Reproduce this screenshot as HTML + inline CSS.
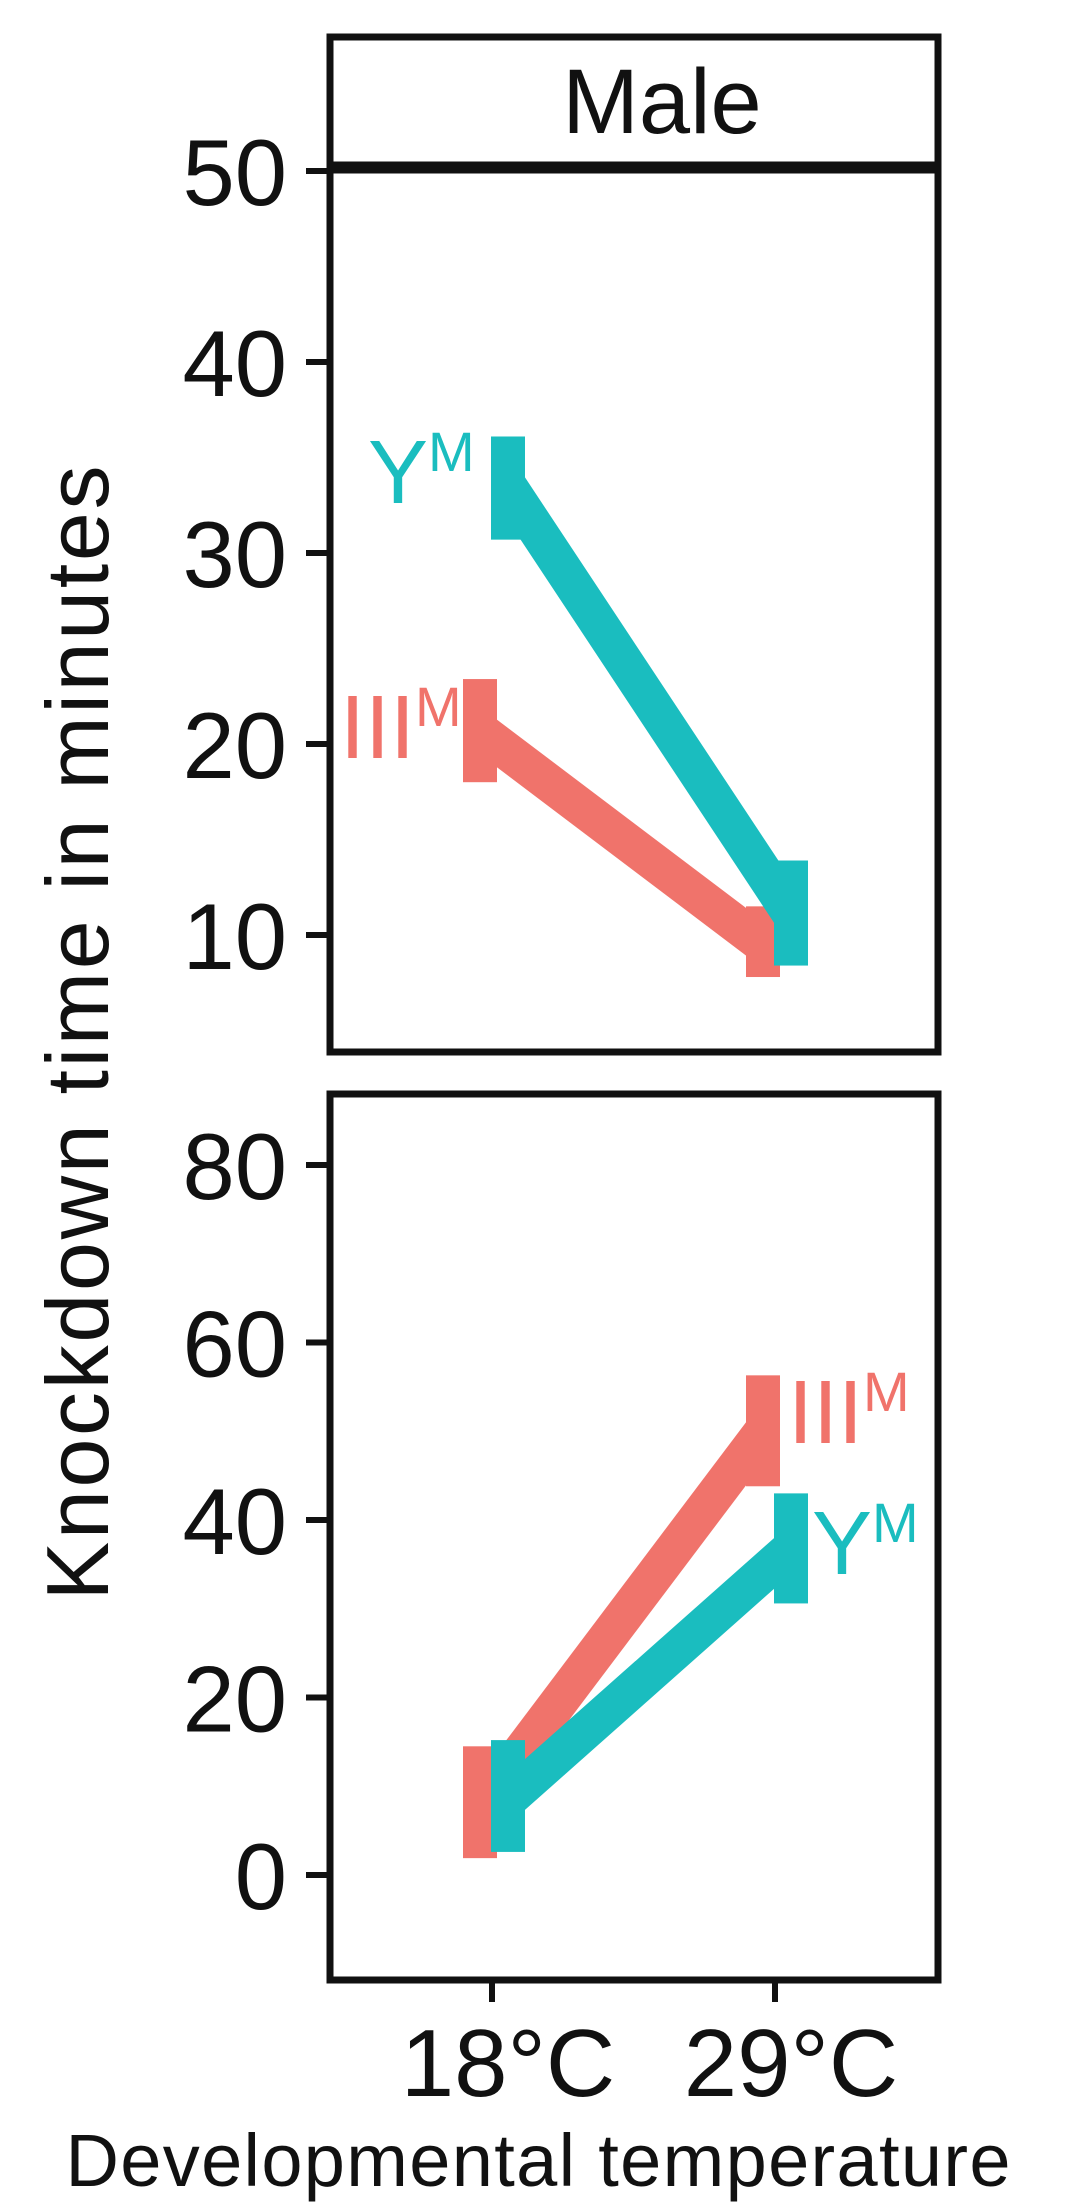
<!DOCTYPE html>
<html><head><meta charset="utf-8"><style>
html,body{margin:0;padding:0;background:#fff;}
svg{display:block;font-family:"Liberation Sans",Arial,sans-serif;}
</style></head><body>
<svg id="chart" width="1077" height="2211" viewBox="0 0 1077 2211" xmlns="http://www.w3.org/2000/svg">
<rect x="330" y="37" width="608" height="128" fill="#fff" stroke="#111" stroke-width="7"/>
<text x="662" y="133" font-size="92" text-anchor="middle" fill="#111">Male</text>
<text transform="translate(108,1033) rotate(-90)" font-size="88" text-anchor="middle" fill="#111" textLength="1135">Knockdown time in minutes</text>
<text x="538" y="2186" font-size="74" text-anchor="middle" fill="#111" textLength="945">Developmental temperature</text>
<g id="plots"></g>
</svg>
<script>
const categories = ["18°C","29°C"];
const seriesNames = ["III","Y"];
// panel 1 (top)
const p1III = [20.7, 9.5], p1IIIlo = [18.0, 7.8], p1IIIhi = [23.4, 11.5];
const p1Y = [33.5, 11.1], p1Ylo = [30.7, 8.4], p1Yhi = [36.1, 13.9];
const p1Ticks = [10,20,30,40,50];
// panel 2 (bottom)
const p2III = [7.7, 50.0], p2IIIlo = [1.9, 43.8], p2IIIhi = [14.5, 56.3];
const p2Y = [8.5, 36.8], p2Ylo = [2.6, 30.6], p2Yhi = [15.2, 43.0];
const p2Ticks = [0,20,40,60,80];

const NS = "http://www.w3.org/2000/svg";
const g = document.getElementById('plots');
const RED = "#F0736B", TEAL = "#1ABDBF";
function mk(tag, attrs, parent){ const e = document.createElementNS(NS, tag); for (const k in attrs) e.setAttribute(k, attrs[k]); (parent||g).appendChild(e); return e; }
function xPos(i){ return 492 + i*283; }

function panel(top, bottom, yFn, ticks, sIII, loIII, hiIII, sY, loY, hiY, name){
  const pg = mk('g', {});
  
  
  const r = mk('rect', {x:330, y:top, width:608, height:bottom-top, fill:'#fff', stroke:'#111', 'stroke-width':7}, pg);
  
  
  ticks.forEach(t => {
    const y = yFn(t);
    const l = mk('line', {x1:306, x2:330, y1:y, y2:y, stroke:'#111', 'stroke-width':6}, pg);
    
    
    const tx = mk('text', {x:287, y:y+34, 'font-size':94, 'text-anchor':'end', fill:'#111'}, pg);
    tx.textContent = t;
    
    
  });
  const series = [[sIII, loIII, hiIII, RED, -12, 'iii'], [sY, loY, hiY, TEAL, 16, 'y']];
  series.forEach(([v, lo, hi, col, dx, sn]) => {
    const pts = v.map((d,i) => (xPos(i)+dx) + ',' + yFn(d)).join(' ');
    const pl = mk('polyline', {points:pts, fill:'none', stroke:col, 'stroke-width':38}, pg);
    
    
    v.forEach((d,i) => {
      const x = xPos(i)+dx;
      const eb = mk('rect', {x:x-17, y:yFn(hi[i]), width:34, height:yFn(lo[i])-yFn(hi[i]), fill:col}, pg);
      
      
    });
  });
}
const y1 = v => 171 + (50 - v) * 19.1;
const y2 = v => 1875 - v * 8.875;
panel(170, 1052, y1, p1Ticks, p1III, p1IIIlo, p1IIIhi, p1Y, p1Ylo, p1Yhi, 'panel-top');
panel(1094, 1980, y2, p2Ticks, p2III, p2IIIlo, p2IIIhi, p2Y, p2Ylo, p2Yhi, 'panel-bottom');

categories.forEach((c,i) => {
  const l = mk('line', {x1:xPos(i), x2:xPos(i), y1:1980, y2:2002, stroke:'#111', 'stroke-width':6});
  
  
  const t = mk('text', {x:xPos(i)+16, y:2096, 'font-size':96, 'text-anchor':'middle', fill:'#111'});
  t.textContent = c;
  
  
});

function label(x, y, base, col, name){
  const t = mk('text', {x:x, y:y, 'font-size':90, fill:col});
  
  
  const s1 = mk('tspan', {}, t); s1.textContent = base;
  const s2 = mk('tspan', {dy:-32, 'font-size':56}, t); s2.textContent = 'M';
}
label(368, 503, 'Y', TEAL, 'label-ym-top');
label(340, 758, 'III', RED, 'label-iiim-top');
label(788, 1443, 'III', RED, 'label-iiim-bottom');
label(812, 1574, 'Y', TEAL, 'label-ym-bottom');
</script>
</body></html>
